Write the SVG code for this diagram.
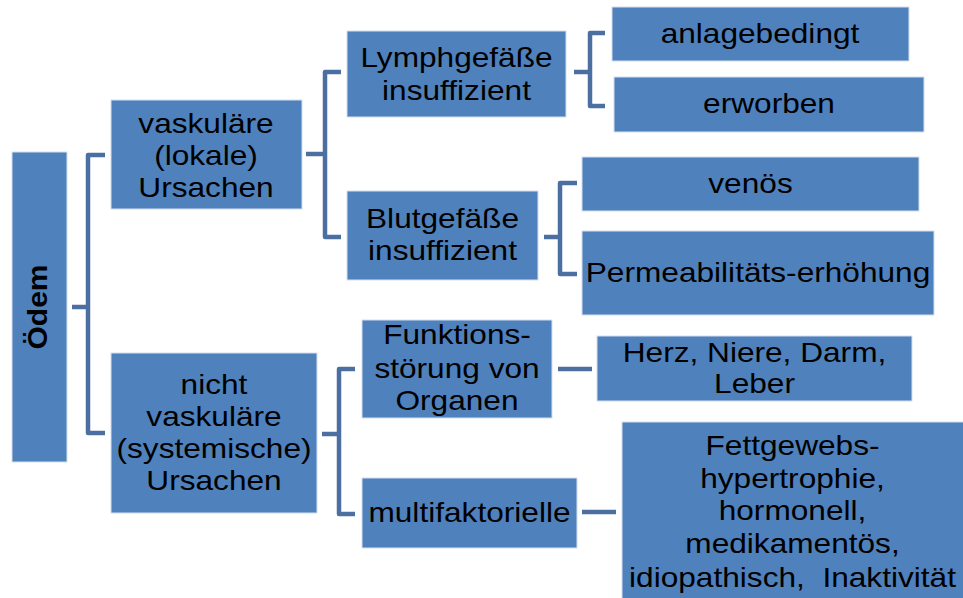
<svg xmlns="http://www.w3.org/2000/svg" width="963" height="598" viewBox="0 0 963 598">
<style>
.box{fill:#4F81BD;stroke:#d5e0ef;stroke-width:1}
.t{font-family:"Liberation Sans",Arial,sans-serif;font-size:28px;fill:#000;text-anchor:middle;white-space:pre}
.b{font-weight:bold;font-size:30px}
.con{fill:none;stroke:#4B6FA0;stroke-width:4.5;stroke-linejoin:round}
</style>
<rect width="963" height="598" fill="#fff"/>
<g id="connectors">
<path class="con" d="M72 307 H88 M105 155 H88 V433 H105"/>
<path class="con" d="M306 154 H325 M341 72 H325 V237 H341"/>
<path class="con" d="M574 72 H590 M605 33 H590 V106 H605"/>
<path class="con" d="M544 237 H560 M577 183 H560 V274 H577"/>
<path class="con" d="M322 434 H339 M355 369 H339 V514 H355"/>
<path class="con" d="M558 369 H592"/>
<path class="con" d="M582 512 H616"/>
</g>
<g id="oedem">
<rect class="box" x="12" y="152" width="55" height="310"/>
<text class="t b" transform="translate(47 307) scale(0.92 1) rotate(-90)" x="0" y="0">Ödem</text>
</g>
<g id="vaskulaere">
<rect class="box" x="111" y="100" width="191" height="109"/>
<text class="t" transform="translate(206 0) scale(1.13 1)" x="0" y="133">vaskuläre</text>
<text class="t" transform="translate(206 0) scale(1.13 1)" x="0" y="165">(lokale)</text>
<text class="t" transform="translate(206 0) scale(1.13 1)" x="0" y="197">Ursachen</text>
</g>
<g id="nichtvaskulaere">
<rect class="box" x="111" y="353" width="206" height="160"/>
<text class="t" transform="translate(214 0) scale(1.13 1)" x="0" y="394">nicht</text>
<text class="t" transform="translate(214 0) scale(1.13 1)" x="0" y="426">vaskuläre</text>
<text class="t" transform="translate(214 0) scale(1.13 1)" x="0" y="458">(systemische)</text>
<text class="t" transform="translate(214 0) scale(1.13 1)" x="0" y="490">Ursachen</text>
</g>
<g id="lymph">
<rect class="box" x="347" y="31" width="219" height="86"/>
<text class="t" transform="translate(456.5 0) scale(1.13 1)" x="0" y="67">Lymphgefäße</text>
<text class="t" transform="translate(456.5 0) scale(1.13 1)" x="0" y="100">insuffizient</text>
</g>
<g id="anlagebedingt">
<rect class="box" x="612" y="7" width="297" height="54"/>
<text class="t" transform="translate(760 0) scale(1.13 1)" x="0" y="43">anlagebedingt</text>
</g>
<g id="erworben">
<rect class="box" x="614" y="77" width="310" height="55"/>
<text class="t" transform="translate(769 0) scale(1.13 1)" x="0" y="113">erworben</text>
</g>
<g id="blut">
<rect class="box" x="347" y="191" width="191" height="89"/>
<text class="t" transform="translate(442.5 0) scale(1.13 1)" x="0" y="228">Blutgefäße</text>
<text class="t" transform="translate(442.5 0) scale(1.13 1)" x="0" y="260">insuffizient</text>
</g>
<g id="venoes">
<rect class="box" x="582" y="157" width="337" height="54"/>
<text class="t" transform="translate(750.5 0) scale(1.13 1)" x="0" y="193">venös</text>
</g>
<g id="permeabilitaet">
<rect class="box" x="582" y="231" width="352" height="84"/>
<text class="t" transform="translate(758 0) scale(1.13 1)" x="0" y="282">Permeabilitäts-erhöhung</text>
</g>
<g id="funktion">
<rect class="box" x="362" y="320" width="190" height="98"/>
<text class="t" transform="translate(457 0) scale(1.13 1)" x="0" y="344">Funktions-</text>
<text class="t" transform="translate(457 0) scale(1.13 1)" x="0" y="378">störung von</text>
<text class="t" transform="translate(457 0) scale(1.13 1)" x="0" y="410">Organen</text>
</g>
<g id="organe">
<rect class="box" x="597" y="336" width="315" height="65"/>
<text class="t" transform="translate(754.5 0) scale(1.13 1)" x="0" y="362">Herz, Niere, Darm,</text>
<text class="t" transform="translate(754.5 0) scale(1.13 1)" x="0" y="393">Leber</text>
</g>
<g id="multi">
<rect class="box" x="362" y="478" width="215" height="70"/>
<text class="t" transform="translate(469.5 0) scale(1.13 1)" x="0" y="522">multifaktorielle</text>
</g>
<g id="fett">
<rect class="box" x="622" y="422" width="345" height="180"/>
<text class="t" transform="translate(792.5 0) scale(1.13 1)" x="0" y="455">Fettgewebs-</text>
<text class="t" transform="translate(792.5 0) scale(1.13 1)" x="0" y="488">hypertrophie,</text>
<text class="t" transform="translate(792.5 0) scale(1.13 1)" x="0" y="520">hormonell,</text>
<text class="t" transform="translate(792.5 0) scale(1.13 1)" x="0" y="553">medikamentös,</text>
<text class="t" transform="translate(792.5 0) scale(1.13 1)" x="0" y="587">idiopathisch,  Inaktivität</text>
</g>
</svg>
